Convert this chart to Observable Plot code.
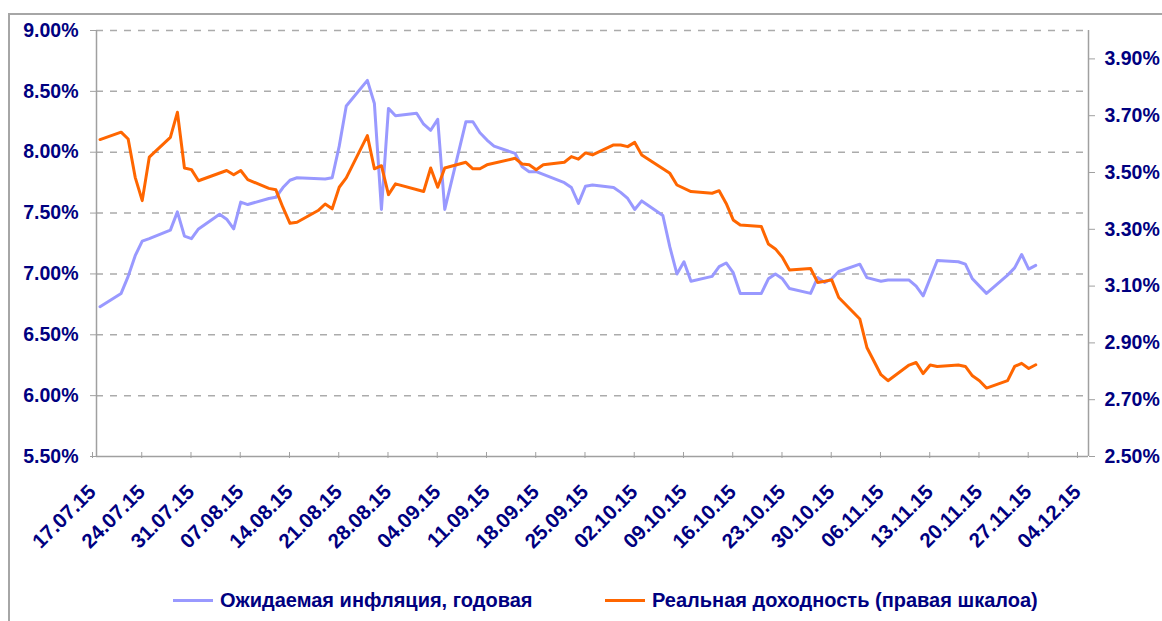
<!DOCTYPE html>
<html>
<head>
<meta charset="utf-8">
<script src="https://cdn.jsdelivr.net/npm/d3@7"></script>
<script src="https://cdn.jsdelivr.net/npm/@observablehq/plot@0.6"></script>
<style>
  html, body { margin: 0; padding: 0; background: #fff; }
  #wrap { position: relative; width: 1162px; height: 621px; overflow: hidden; font-family: "Liberation Sans", Arial, sans-serif; }
  #frame { position: absolute; left: 8px; top: 13px; width: 1300px; height: 800px; border-left: 2px solid #a6a6a6; border-top: 2px solid #a6a6a6; }
  #chart { position: absolute; left: 0; top: 0; }
  .leg { position: absolute; top: 589px; height: 22px; display: flex; align-items: center; font-weight: bold; font-size: 20px; color: #000080; white-space: nowrap; }
  .leg .sw { display: inline-block; width: 40px; height: 0; border-top: 3px solid; margin-right: 7px; }
</style>
</head>
<body>
<div id="wrap">
  <div id="frame"></div>
  <div id="chart"></div>
  <div class="leg" style="left:173px"><span class="sw" style="border-color:#9999ff"></span><span id="l1"></span></div>
  <div class="leg" style="left:605px"><span class="sw" style="border-color:#ff6600"></span><span id="l2"></span></div>
</div>
<script>
// ---- data ----
const seriesNames = ["Ожидаемая инфляция, годовая", "Реальная доходность (правая шкалоа)"];

const inflationDates = [
  "2015-07-17","2015-07-20","2015-07-21","2015-07-22","2015-07-23","2015-07-24","2015-07-27","2015-07-28","2015-07-29","2015-07-30","2015-07-31",
  "2015-08-03","2015-08-04","2015-08-05","2015-08-06","2015-08-07","2015-08-10","2015-08-11","2015-08-12","2015-08-13","2015-08-14",
  "2015-08-18","2015-08-19","2015-08-20","2015-08-21","2015-08-24","2015-08-25","2015-08-26","2015-08-27","2015-08-28",
  "2015-08-31","2015-09-01","2015-09-02","2015-09-03","2015-09-04","2015-09-07","2015-09-08","2015-09-09","2015-09-10","2015-09-11",
  "2015-09-14","2015-09-15","2015-09-16","2015-09-17","2015-09-21","2015-09-22","2015-09-23","2015-09-24","2015-09-25",
  "2015-09-28","2015-09-29","2015-09-30","2015-10-01","2015-10-02","2015-10-05","2015-10-06","2015-10-07","2015-10-08","2015-10-09",
  "2015-10-12","2015-10-13","2015-10-14","2015-10-15","2015-10-16","2015-10-19","2015-10-20","2015-10-21","2015-10-22","2015-10-23",
  "2015-10-26","2015-10-27","2015-10-28","2015-10-29","2015-10-30","2015-11-02","2015-11-03","2015-11-05","2015-11-06",
  "2015-11-09","2015-11-10","2015-11-11","2015-11-13","2015-11-16","2015-11-17","2015-11-18","2015-11-19","2015-11-20",
  "2015-11-23","2015-11-24","2015-11-25","2015-11-26","2015-11-27"
];
const inflationValues = [
  6.73,6.84,6.98,7.15,7.27,7.29,7.36,7.51,7.31,7.29,7.37,
  7.49,7.45,7.37,7.59,7.57,7.62,7.63,7.71,7.77,7.79,
  7.78,7.79,8.05,8.38,8.59,8.40,7.53,8.36,8.30,
  8.32,8.23,8.18,8.27,7.53,8.25,8.25,8.16,8.10,8.05,
  7.99,7.88,7.84,7.84,7.75,7.71,7.58,7.72,7.73,
  7.71,7.67,7.62,7.53,7.60,7.48,7.22,7.00,7.10,6.94,
  6.98,7.06,7.09,7.01,6.84,6.84,6.96,7.00,6.96,6.88,
  6.84,6.97,6.93,6.96,7.02,7.08,6.97,6.94,6.95,
  6.95,6.90,6.82,7.11,7.10,7.08,6.96,6.90,6.84,
  6.99,7.05,7.16,7.04,7.07
];

const yieldDates = [
  "2015-07-17","2015-07-20","2015-07-21","2015-07-22","2015-07-23","2015-07-24","2015-07-27","2015-07-28","2015-07-29","2015-07-30","2015-07-31",
  "2015-08-04","2015-08-05","2015-08-06","2015-08-07","2015-08-10","2015-08-11","2015-08-12","2015-08-13","2015-08-14",
  "2015-08-17","2015-08-18","2015-08-19","2015-08-20","2015-08-21","2015-08-24","2015-08-25","2015-08-26","2015-08-27","2015-08-28",
  "2015-09-01","2015-09-02","2015-09-03","2015-09-04","2015-09-07","2015-09-08","2015-09-09","2015-09-10",
  "2015-09-14","2015-09-15","2015-09-16","2015-09-17","2015-09-18","2015-09-21","2015-09-22","2015-09-23","2015-09-24","2015-09-25",
  "2015-09-28","2015-09-29","2015-09-30","2015-10-01","2015-10-02","2015-10-06","2015-10-07","2015-10-09",
  "2015-10-12","2015-10-13","2015-10-14","2015-10-15","2015-10-16","2015-10-19","2015-10-20","2015-10-21","2015-10-22","2015-10-23",
  "2015-10-26","2015-10-27","2015-10-28","2015-10-29","2015-10-30","2015-11-02","2015-11-03","2015-11-05","2015-11-06",
  "2015-11-09","2015-11-10","2015-11-11","2015-11-12","2015-11-13","2015-11-16","2015-11-17","2015-11-18","2015-11-19","2015-11-20",
  "2015-11-23","2015-11-24","2015-11-25","2015-11-26","2015-11-27"
];
const yieldValues = [
  3.616,3.642,3.618,3.483,3.401,3.554,3.624,3.712,3.516,3.510,3.471,
  3.507,3.492,3.507,3.475,3.444,3.439,3.377,3.321,3.325,
  3.366,3.389,3.372,3.448,3.481,3.630,3.513,3.524,3.422,3.460,
  3.433,3.516,3.448,3.516,3.536,3.513,3.513,3.527,
  3.550,3.530,3.527,3.510,3.527,3.536,3.556,3.547,3.569,3.562,
  3.597,3.597,3.591,3.606,3.562,3.497,3.456,3.433,
  3.427,3.436,3.391,3.333,3.315,3.310,3.248,3.231,3.201,3.157,
  3.162,3.113,3.117,3.122,3.060,2.984,2.884,2.788,2.767,
  2.822,2.831,2.792,2.822,2.817,2.822,2.817,2.784,2.767,2.741,
  2.767,2.817,2.828,2.810,2.823
];

const leftTicks = [5.5, 6.0, 6.5, 7.0, 7.5, 8.0, 8.5, 9.0];
const rightTicks = [2.5, 2.7, 2.9, 3.1, 3.3, 3.5, 3.7, 3.9];
const xTickLabels = ["2015-07-17","2015-07-24","2015-07-31","2015-08-07","2015-08-14","2015-08-21","2015-08-28","2015-09-04","2015-09-11","2015-09-18","2015-09-25","2015-10-02","2015-10-09","2015-10-16","2015-10-23","2015-10-30","2015-11-06","2015-11-13","2015-11-20","2015-11-27","2015-12-04"];
const xDomain = ["2015-07-17", "2015-12-05"];
const leftDomain = [5.5, 9.0];
const rightDomain = [2.5, 4.0];

// ---- build ----
const navy = "#000080";
const toLeft = v => leftDomain[0] + (v - rightDomain[0]) * (leftDomain[1] - leftDomain[0]) / (rightDomain[1] - rightDomain[0]);
const fromLeft = v => rightDomain[0] + (v - leftDomain[0]) * (rightDomain[1] - rightDomain[0]) / (leftDomain[1] - leftDomain[0]);
const inflation = inflationDates.map((d, i) => ({date: new Date(d), value: inflationValues[i]}));
const yields = yieldDates.map((d, i) => ({date: new Date(d), value: toLeft(yieldValues[i])}));
const mid = d => d3.utcHour.offset(d.date, 12);
const dx0 = new Date(xDomain[0]), dx1 = new Date(xDomain[1]);

const chart = Plot.plot({
  width: 1162,
  height: 560,
  marginLeft: 96,
  marginRight: 74,
  marginTop: 30,
  marginBottom: 104,
  style: {fontFamily: '"Liberation Sans", Arial, sans-serif', fontWeight: "bold", fontSize: "19.5px", color: navy, background: "transparent", overflow: "visible"},
  x: {type: "utc", domain: [dx0, dx1]},
  y: {domain: leftDomain},
  marks: [
    Plot.ruleY(leftTicks.filter(v => v > leftDomain[0]), {stroke: "#ababab", strokeWidth: 1.5, strokeDasharray: "7 7"}),
    Plot.ruleX([dx0, dx1], {stroke: "#a0a0a0", strokeWidth: 1.5}),
    Plot.ruleY([leftDomain[0]], {stroke: "#a0a0a0", strokeWidth: 1.5}),
    Plot.axisY(leftTicks, {anchor: "left", tickSize: 6, tickPadding: 12, stroke: "#a0a0a0", fill: navy, tickFormat: v => v.toFixed(2) + "%", label: null}),
    Plot.axisY(rightTicks.map(toLeft), {anchor: "right", tickSize: 6, tickPadding: 10, stroke: "#a0a0a0", fill: navy, tickFormat: v => fromLeft(v).toFixed(2) + "%", label: null}),
    Plot.axisX(xTickLabels.map(d => new Date(d)), {anchor: "bottom", tickSize: 6, tickPadding: 30, tickRotate: -45, textAnchor: "end", lineAnchor: "middle", dx: -4, dy: -4, fontSize: 20.5, stroke: "#a0a0a0", fill: navy, tickFormat: d3.utcFormat("%d.%m.%y"), label: null}),
    Plot.line(inflation, {x: mid, y: "value", stroke: "#9999ff", strokeWidth: 3}),
    Plot.line(yields, {x: mid, y: "value", stroke: "#ff6600", strokeWidth: 3})
  ]
});
document.getElementById("chart").appendChild(chart);
document.getElementById("l1").textContent = seriesNames[0];
document.getElementById("l2").textContent = seriesNames[1];
</script>
</body>
</html>
